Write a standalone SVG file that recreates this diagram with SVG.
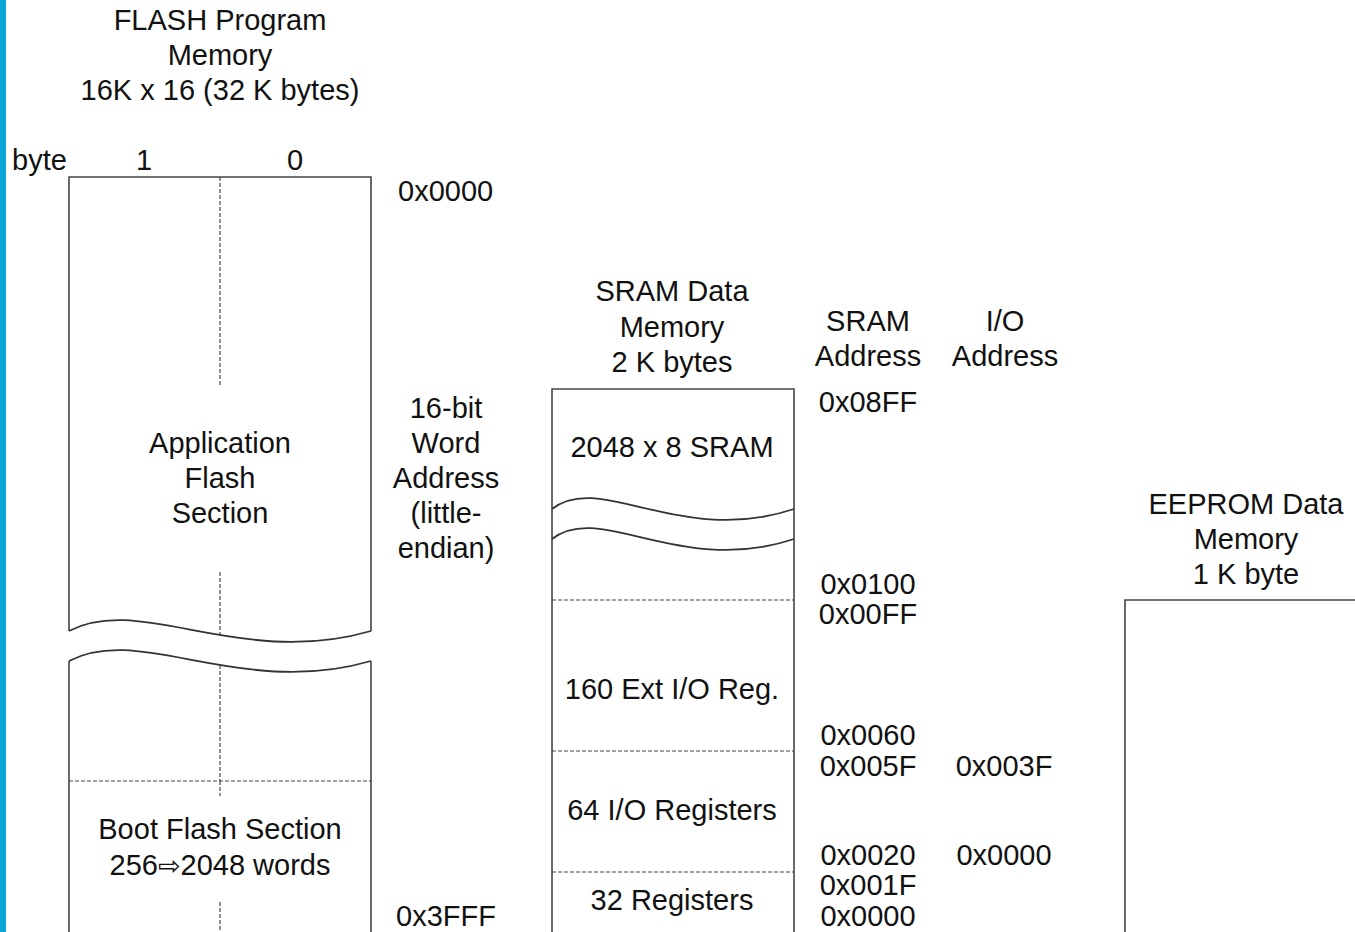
<svg xmlns="http://www.w3.org/2000/svg" width="1355" height="932" viewBox="0 0 1355 932">
<style>
text{font-family:"Liberation Sans",Arial,"DejaVu Sans",sans-serif;font-size:29px;fill:#111;}
.c{text-anchor:middle;}
.box{fill:none;stroke:#444;stroke-width:1.6;}
.dash{fill:none;stroke:#444;stroke-width:1.2;stroke-dasharray:4 2;}
.wave{fill:none;stroke:#333;stroke-width:1.8;}
</style>
<rect x="0" y="0" width="1355" height="932" fill="#fff"/>
<rect x="0" y="0" width="6" height="932" fill="#0aa6d8"/>

<g id="flash">
<text class="c" x="220" y="30">FLASH Program</text>
<text class="c" x="220" y="65">Memory</text>
<text class="c" x="220" y="100">16K x 16 (32 K bytes)</text>
<text x="12" y="170">byte</text>
<text class="c" x="144" y="170">1</text>
<text class="c" x="295" y="170">0</text>
<path class="box" d="M69,631 V177 H371 V631"/>
<path class="wave" d="M69,631 C140,593 240,669 371,631"/>
<path class="wave" d="M69,661 C140,623 240,699 371,661"/>
<path class="box" d="M69,661 V940 M371,661 V940"/>
<path class="dash" d="M220,177 V386 M220,572 V634 M220,665 V781 M69,781 H371 M220,781 V796 M220,902 V932"/>
<text class="c" x="220" y="453">Application</text>
<text class="c" x="220" y="488">Flash</text>
<text class="c" x="220" y="523">Section</text>
<text class="c" x="220" y="839">Boot Flash Section</text>
<text class="c" x="220" y="875">256<tspan font-family="DejaVu Sans" font-size="27">⇨</tspan>2048 words</text>
</g>

<g id="flash-addr">
<text x="398" y="201">0x0000</text>
<text x="396" y="926">0x3FFF</text>
<text class="c" x="446" y="418">16-bit</text>
<text class="c" x="446" y="453">Word</text>
<text class="c" x="446" y="488">Address</text>
<text class="c" x="446" y="523">(little-</text>
<text class="c" x="446" y="558">endian)</text>
</g>

<g id="sram">
<text class="c" x="672" y="301">SRAM Data</text>
<text class="c" x="672" y="337">Memory</text>
<text class="c" x="672" y="372">2 K bytes</text>
<path class="box" d="M552,940 V389 H794 V940"/>
<path class="wave" d="M552,509 C600,471 680,547 794,509"/>
<path class="wave" d="M552,539 C600,501 680,577 794,539"/>
<path class="dash" d="M552,600 H794 M552,751 H794 M552,872 H794"/>
<text class="c" x="672" y="457">2048 x 8 SRAM</text>
<text class="c" x="672" y="699">160 Ext I/O Reg.</text>
<text class="c" x="672" y="820">64 I/O Registers</text>
<text class="c" x="672" y="910">32 Registers</text>
</g>

<g id="sram-addr">
<text class="c" x="868" y="331">SRAM</text>
<text class="c" x="868" y="366">Address</text>
<text class="c" x="868" y="412">0x08FF</text>
<text class="c" x="868" y="594">0x0100</text>
<text class="c" x="868" y="624">0x00FF</text>
<text class="c" x="868" y="745">0x0060</text>
<text class="c" x="868" y="776">0x005F</text>
<text class="c" x="868" y="865">0x0020</text>
<text class="c" x="868" y="895">0x001F</text>
<text class="c" x="868" y="926">0x0000</text>
</g>

<g id="io-addr">
<text class="c" x="1005" y="331">I/O</text>
<text class="c" x="1005" y="366">Address</text>
<text class="c" x="1004" y="776">0x003F</text>
<text class="c" x="1004" y="865">0x0000</text>
</g>

<g id="eeprom">
<text class="c" x="1246" y="514">EEPROM Data</text>
<text class="c" x="1246" y="549">Memory</text>
<text class="c" x="1246" y="584">1 K byte</text>
<path class="box" d="M1125,940 V600 H1360"/>
</g>
</svg>
